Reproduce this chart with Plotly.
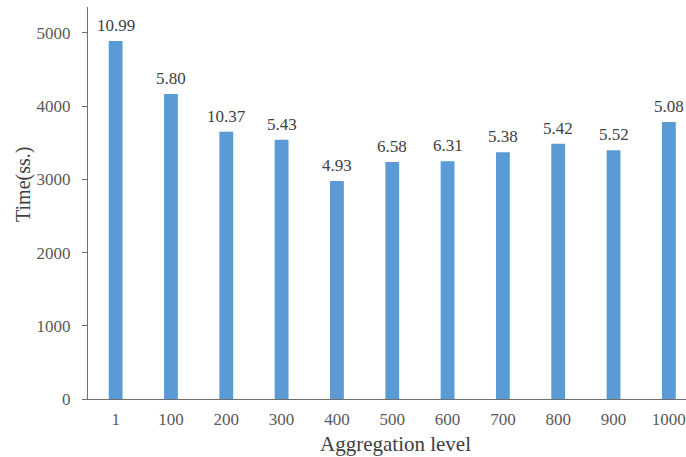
import plotly.graph_objects as go

# Aggregation levels on the x axis
levels = ["1", "100", "200", "300", "400", "500", "600", "700", "800", "900", "1000"]
# Run time for each level
times = [4891, 4167, 3652, 3543, 2978, 3238, 3247, 3370, 3488, 3397, 3784]
# Figures printed above each bar
bar_notes = ["10.99", "5.80", "10.37", "5.43", "4.93", "6.58", "6.31", "5.38", "5.42", "5.52", "5.08"]
y_ticks = [0, 1000, 2000, 3000, 4000, 5000]

serif = "Liberation Serif, Times New Roman, serif"
positions = list(range(len(levels)))

fig = go.Figure(
    go.Bar(
        x=positions,
        y=times,
        width=0.25,
        marker=dict(color="#5B9BD5", line=dict(width=0)),
        hoverinfo="skip",
    )
)

for pos, t, note in zip(positions, times, bar_notes):
    fig.add_annotation(
        x=pos, y=t, text=note, showarrow=False,
        xanchor="center", yanchor="bottom", yshift=4,
        font=dict(family=serif, size=17, color="#404040"),
    )

# Axis titles
fig.add_annotation(
    xref="paper", yref="paper", x=-0.107, y=0.546,
    text="Time(ss.)", textangle=-90, showarrow=False,
    xanchor="center", yanchor="middle",
    font=dict(family=serif, size=20, color="#404040"),
)
fig.add_annotation(
    xref="paper", yref="paper", x=0.515, y=-0.115,
    text="Aggregation level", showarrow=False,
    xanchor="center", yanchor="middle",
    font=dict(family=serif, size=21, color="#404040"),
)

fig.update_layout(
    width=686, height=457,
    margin=dict(l=88, r=0, t=7, b=58),
    plot_bgcolor="white", paper_bgcolor="white",
    showlegend=False,
    font=dict(family=serif, color="#595959"),
)

fig.update_xaxes(
    range=[-0.5, 10.31],
    tickvals=positions, ticktext=levels,
    showline=True, linecolor="#6f6f6f", linewidth=1,
    ticks="", showgrid=False, zeroline=False,
    ticklabelstandoff=5,
    tickfont=dict(family=serif, size=17, color="#595959"),
)

fig.update_yaxes(
    range=[0, 5355],
    tickvals=y_ticks,
    showline=True, linecolor="#6f6f6f", linewidth=1,
    ticks="outside", ticklen=5, tickcolor="#6f6f6f",
    ticklabelstandoff=8,
    showgrid=False, zeroline=False,
    tickfont=dict(family=serif, size=17, color="#595959"),
)

fig.write_html("out.html")
